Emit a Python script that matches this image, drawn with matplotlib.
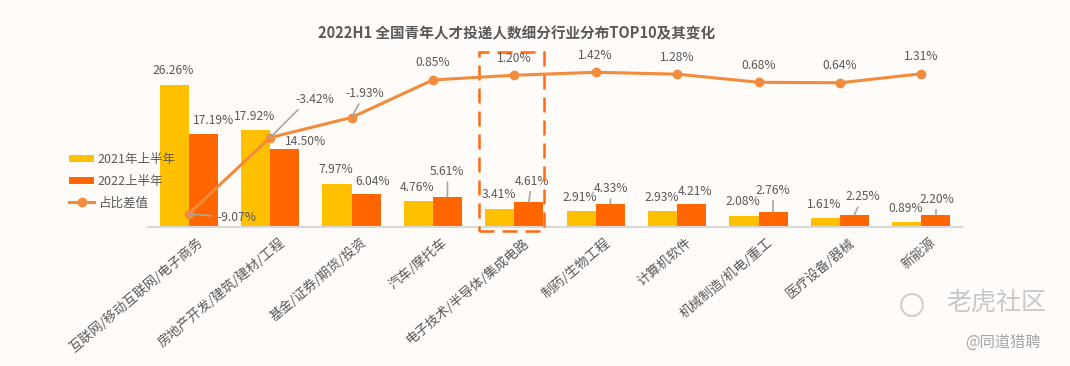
import matplotlib

matplotlib.use("Agg")
import matplotlib.pyplot as plt
import numpy as np
from matplotlib.lines import Line2D
from matplotlib.patches import Ellipse, Patch, Rectangle
from matplotlib.transforms import ScaledTranslation

plt.rcParams["font.family"] = ["Noto Sans CJK SC", "DejaVu Sans"]

categories = [
    "互联网/移动互联网/电子商务",
    "房地产开发/建筑/建材/工程",
    "基金/证券/期货/投资",
    "汽车/摩托车",
    "电子技术/半导体/集成电路",
    "制药/生物工程",
    "计算机软件",
    "机械制造/机电/重工",
    "医疗设备/器械",
    "新能源",
]
share_2021 = [26.26, 17.92, 7.97, 4.76, 3.41, 2.91, 2.93, 2.08, 1.61, 0.89]
share_2022 = [17.19, 14.50, 6.04, 5.61, 4.61, 4.33, 4.21, 2.76, 2.25, 2.20]
share_diff = [-9.07, -3.42, -1.93, 0.85, 1.20, 1.42, 1.28, 0.68, 0.64, 1.31]
series_names = ["2021年上半年", "2022上半年", "占比差值"]
highlight = 4

YELLOW = "#FFC000"
ORANGE = "#FF6600"
LINE = "#F28B3C"
TEXT = "#595959"
LEADER = "#A6A6A6"
BG = "#FEFBF9"

fig = plt.figure(figsize=(10.7, 3.66), dpi=100, facecolor=BG)
ax = fig.add_axes([148 / 1070, 139 / 366, 814 / 1070, 187 / 366])
ax.set_facecolor("none")

x = np.arange(len(categories))
w = 0.357
ax.bar(x - w / 2, share_2021, w, color=YELLOW, zorder=2)
ax.bar(x + w / 2, share_2022, w, color=ORANGE, zorder=2)
ax.set_xlim(-0.5, len(categories) - 0.5)
ax.set_ylim(0, 34.57)

for s in ["top", "left", "right"]:
    ax.spines[s].set_visible(False)
ax.spines["bottom"].set_color("#D9D9D9")
ax.spines["bottom"].set_linewidth(1.5)
ax.set_yticks([])
ax.set_xticks(x)
ax.set_xticklabels(categories, rotation=40, ha="right", va="center",
                   rotation_mode="anchor", fontsize=9.5, color=TEXT)
ax.tick_params(axis="x", length=0, pad=10)
for lbl in ax.get_xticklabels():
    lbl.set_transform(lbl.get_transform() + ScaledTranslation(13 / 100, 0, fig.dpi_scale_trans))

lab_kw = dict(textcoords="offset pixels", ha="center", va="center", fontsize=8.7, color=TEXT)
leader = dict(arrowstyle="-", color=LEADER, lw=1.2, shrinkA=1, shrinkB=0)

# 2021 labels, straight above the bar
for i, v in enumerate(share_2021):
    ax.annotate(f"{v:.2f}%", (x[i] - w / 2, v), xytext=(-1, 14), zorder=4, **lab_kw)

# 2022 labels: offset in pixels, and whether a leader line is drawn
off_2022 = [(10, 14), (21, 7), (7, 13), (0, 25), (3, 21), (1, 15), (3, 13), (0, 22), (8, 18), (1, 16)]
lead_2022 = [False, False, False, True, True, True, False, True, True, True]
for i, v in enumerate(share_2022):
    ax.annotate(f"{v:.2f}%", (x[i] + w / 2, v), xytext=off_2022[i], zorder=4,
                arrowprops=leader if lead_2022[i] else None, **lab_kw)

# highlight box round one category
ax.add_patch(Rectangle((highlight - 0.433, -0.7), 0.8, 33.0, fill=False, edgecolor="#FF6A13",
                       lw=1.8, linestyle=(0, (6, 3.2)), clip_on=False, zorder=5))

ax2 = ax.twinx()
ax2.set_ylim(-10.04, 3.81)
ax2.axis("off")
ax2.plot(x, share_diff, color=LINE, lw=2.2, marker="o", markersize=6, zorder=3)

off_diff = [(48, -4), (45, 38), (13, 24)] + [(0, 17)] * 7
for i, v in enumerate(share_diff):
    arrow = None
    if i == 0:
        arrow = dict(leader, shrinkA=2)
    elif i == 1:
        arrow = dict(leader, connectionstyle="arc,angleA=180,armA=7,angleB=0,armB=0,rad=0")
    elif i == 2:
        arrow = leader
    ax2.annotate(f"{v:.2f}%", (x[i], v), xytext=off_diff[i], arrowprops=arrow, **lab_kw)

fig.text(517 / 1070, 1 - 33 / 366, "2022H1 全国青年人才投递人数细分行业分布TOP10及其变化",
         ha="center", va="center", fontsize=10.5, fontweight="bold", color=TEXT)

handles = [
    Patch(facecolor=YELLOW, edgecolor="none"),
    Patch(facecolor=ORANGE, edgecolor="none"),
    Line2D([], [], color=LINE, lw=2.2, marker="o", markersize=6),
]
fig.legend(handles, series_names, loc="upper left", bbox_to_anchor=(69 / 1070, 1 - 153 / 366),
           frameon=False, fontsize=9, labelcolor=TEXT, handlelength=2.0, handleheight=0.55,
           handletextpad=0.3, labelspacing=0.7, borderpad=0, borderaxespad=0)

# watermark
fig.patches.append(Ellipse((912 / 1070, 1 - 305 / 366), 22 / 1070, 22 / 366, transform=fig.transFigure,
                           fill=False, edgecolor="#CFCFCF", lw=1.5))
fig.text(996 / 1070, 1 - 303 / 366, "老虎社区", ha="center", va="center", fontsize=18, color="#C8C8C8")
fig.text(1003 / 1070, 1 - 342 / 366, "@同道猎聘", ha="center", va="center", fontsize=11, color="#A6A6A6")

fig.savefig("out.png", dpi=100, facecolor=BG)
